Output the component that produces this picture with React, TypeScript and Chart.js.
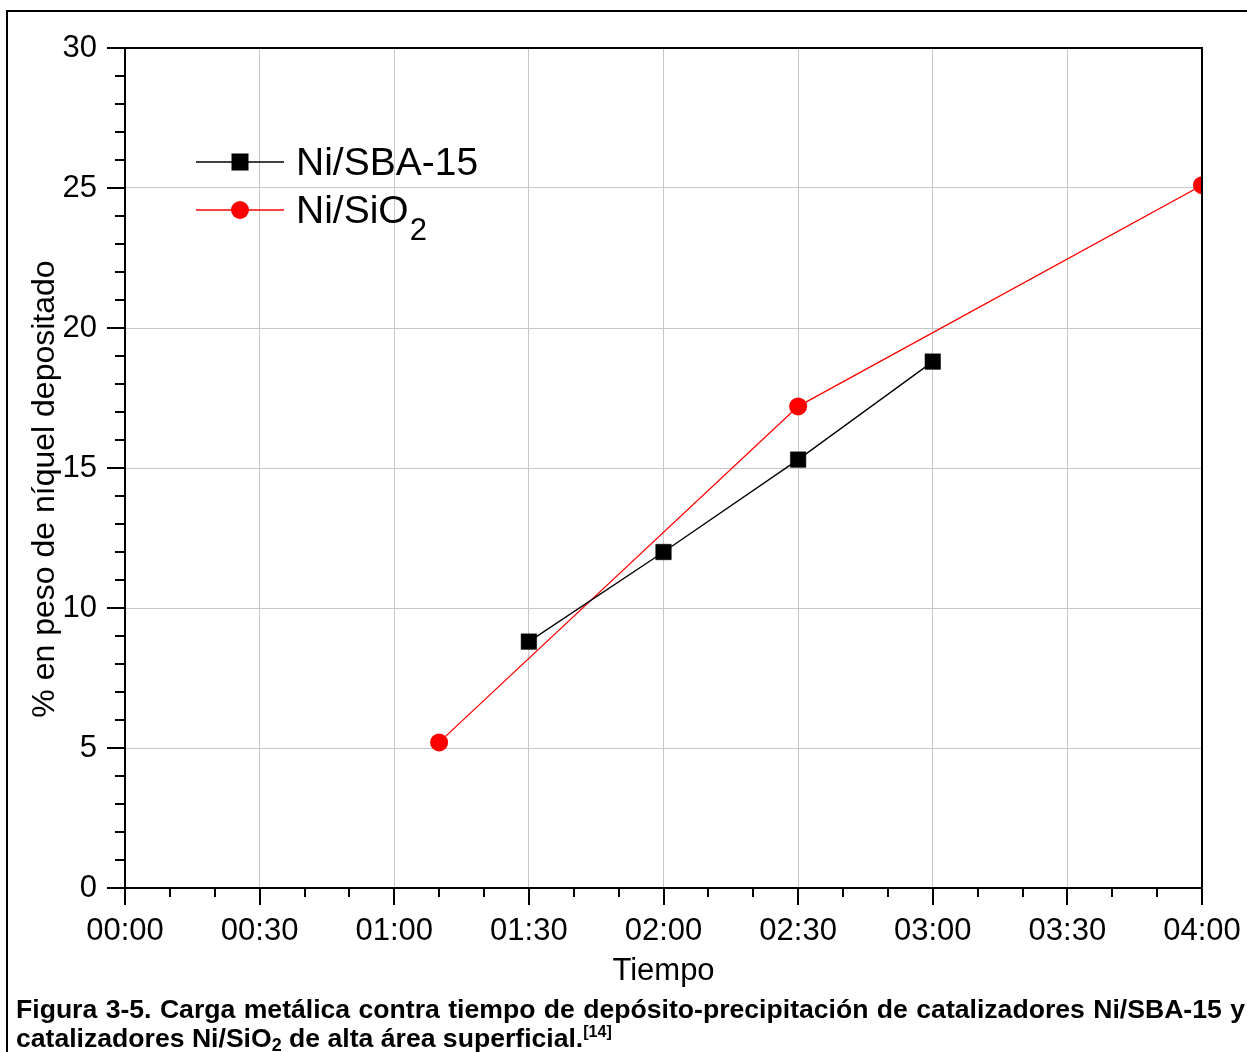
import React, { useEffect, useRef } from 'react';
import { Chart, registerables } from 'chart.js';

Chart.register(...registerables);

// Deposition time in minutes and nickel loading (wt %)
const sbaTimes = [90, 120, 150, 180];
const sbaLoading = [8.8, 12.0, 15.3, 18.8];
const sio2Times = [70, 150, 240];
const sio2Loading = [5.2, 17.2, 25.1];

const seriesNames = ['Ni/SBA-15', 'Ni/SiO'];
const seriesSubscripts = ['', '2'];
const timeTickLabels = ['00:00', '00:30', '01:00', '01:30', '02:00', '02:30', '03:00', '03:30', '04:00'];
const xTitle = 'Tiempo';
const yTitle = '% en peso de níquel depositado';

const FONT = "'Liberation Sans', Arial, Helvetica, sans-serif";
const GRID = '#c6c6c6';

const frameAndTicks = {
  id: 'frameAndTicks',
  afterDatasetsDraw(chart: any) {
    const { ctx, chartArea: a, scales } = chart;
    const x = scales.x;
    const y = scales.y;
    ctx.save();
    ctx.strokeStyle = '#000';
    ctx.lineWidth = 2;
    ctx.strokeRect(a.left, a.top, a.right - a.left, a.bottom - a.top);
    ctx.beginPath();
    for (let v = 0; v <= 240; v += 10) {
      const px = Math.round(x.getPixelForValue(v));
      const len = v % 30 === 0 ? 17 : 9;
      ctx.moveTo(px, a.bottom);
      ctx.lineTo(px, a.bottom + len);
    }
    for (let v = 0; v <= 30; v += 1) {
      const py = Math.round(y.getPixelForValue(v));
      const len = v % 5 === 0 ? 18 : 10;
      ctx.moveTo(a.left - len, py);
      ctx.lineTo(a.left, py);
    }
    ctx.stroke();
    ctx.restore();
  },
};

const legendAndTitle = {
  id: 'legendAndTitle',
  afterDraw(chart: any) {
    const { ctx, chartArea: a } = chart;
    ctx.save();
    // rotated y-axis title
    ctx.fillStyle = '#000';
    ctx.font = `32px ${FONT}`;
    ctx.textAlign = 'center';
    ctx.textBaseline = 'alphabetic';
    ctx.translate(54, a.top + (a.bottom - a.top) * 0.525);
    ctx.rotate(-Math.PI / 2);
    ctx.fillText(yTitle, 0, 0);
    ctx.restore();

    // legend
    ctx.save();
    const x0 = a.left + 71;
    const x1 = a.left + 159;
    chart.data.datasets.forEach((ds: any, i: number) => {
      const cy = a.top + 114 + i * 48;
      ctx.strokeStyle = ds.borderColor;
      ctx.lineWidth = 1.5;
      ctx.beginPath();
      ctx.moveTo(x0, cy);
      ctx.lineTo(x1, cy);
      ctx.stroke();
      ctx.fillStyle = ds.backgroundColor;
      const cx = (x0 + x1) / 2;
      if (ds.pointStyle === 'rect') {
        ctx.fillRect(cx - 8.5, cy - 8.5, 17, 17);
      } else {
        ctx.beginPath();
        ctx.arc(cx, cy, 9, 0, Math.PI * 2);
        ctx.fill();
      }
      ctx.fillStyle = '#000';
      ctx.textAlign = 'left';
      ctx.textBaseline = 'alphabetic';
      ctx.font = `39px ${FONT}`;
      const tx = a.left + 171;
      const base = cy + 13;
      ctx.fillText(seriesNames[i], tx, base);
      if (seriesSubscripts[i]) {
        const w = ctx.measureText(seriesNames[i]).width;
        ctx.font = `31px ${FONT}`;
        ctx.fillText(seriesSubscripts[i], tx + w + 1, base + 17);
      }
    });
    ctx.restore();
  },
};

function ChartCanvas() {
  const ref = useRef<HTMLCanvasElement | null>(null);
  useEffect(() => {
    if (!ref.current) return;
    const chart = new Chart(ref.current, {
      type: 'line',
      data: {
        datasets: [
          {
            label: seriesNames[0],
            data: sbaTimes.map((t, i) => ({ x: t, y: sbaLoading[i] })),
            borderColor: '#000000',
            backgroundColor: '#000000',
            borderWidth: 1.3,
            pointStyle: 'rect',
            pointRadius: 11,
            pointBorderWidth: 0.5,
            pointBorderColor: '#000000',
            pointBackgroundColor: '#000000',
          },
          {
            label: seriesNames[1] + seriesSubscripts[1],
            data: sio2Times.map((t, i) => ({ x: t, y: sio2Loading[i] })),
            borderColor: '#ff0000',
            backgroundColor: '#ff0000',
            borderWidth: 1.3,
            pointStyle: 'circle',
            pointRadius: 9,
            pointBorderWidth: 0,
            pointBackgroundColor: '#ff0000',
          },
        ],
      },
      options: {
        responsive: false,
        animation: false,
        devicePixelRatio: 1,
        layout: { padding: { left: 0, top: 48, right: 45, bottom: 0 } },
        plugins: {
          legend: { display: false },
          tooltip: { enabled: false },
        },
        scales: {
          x: {
            type: 'linear',
            min: 0,
            max: 240,
            afterFit: (s: any) => {
              s.height = 112;
              s.paddingLeft = 0;
              s.paddingRight = 0;
            },
            border: { display: false },
            grid: {
              drawTicks: false,
              lineWidth: 1,
              color: (c: any) => (c.tick && c.tick.value % 30 === 0 ? GRID : 'rgba(0,0,0,0)'),
            },
            ticks: {
              stepSize: 10,
              autoSkip: false,
              maxRotation: 0,
              padding: 25,
              color: '#000',
              font: { family: FONT, size: 31 },
              callback: (v: any) => (Number(v) % 30 === 0 ? timeTickLabels[Number(v) / 30] : ''),
            },
            title: {
              display: true,
              text: xTitle,
              color: '#000',
              font: { family: FONT, size: 31 },
              padding: { top: 0, bottom: 10 },
            },
          },
          y: {
            type: 'linear',
            min: 0,
            max: 30,
            afterFit: (s: any) => {
              s.width = 125;
              s.paddingTop = 0;
              s.paddingBottom = 0;
            },
            border: { display: false },
            grid: {
              drawTicks: false,
              lineWidth: 1,
              color: (c: any) => (c.tick && c.tick.value % 5 === 0 ? GRID : 'rgba(0,0,0,0)'),
            },
            ticks: {
              stepSize: 1,
              autoSkip: false,
              padding: 28,
              color: '#000',
              font: { family: FONT, size: 31 },
              callback: (v: any) => (Number(v) % 5 === 0 ? String(v) : ''),
            },
          },
        },
      },
      plugins: [frameAndTicks, legendAndTitle],
    } as any);
    return () => chart.destroy();
  }, []);
  return <canvas ref={ref} width={1247} height={1000} style={{ position: 'absolute', left: 0, top: 0 }} />;
}

export default function App() {
  const captionFont: React.CSSProperties = {
    fontFamily: FONT,
    fontWeight: 'bold',
    fontSize: 26.6,
    lineHeight: '29px',
    color: '#000',
    whiteSpace: 'nowrap',
  };
  return (
    <div style={{ position: 'fixed', left: 0, top: 0, width: 1247, height: 1052, overflow: 'hidden', background: '#fff' }}>
      <div style={{ position: 'absolute', left: 6, top: 10, width: 1300, height: 1100, borderLeft: '2px solid #000', borderTop: '2px solid #000' }} />
      <ChartCanvas />
      <div style={{ position: 'absolute', left: 16, top: 995, width: 1229 }}>
        <div style={{ ...captionFont, textAlign: 'justify', textAlignLast: 'justify' }}>
          Figura 3-5. Carga metálica contra tiempo de depósito-precipitación de catalizadores Ni/SBA-15 y
        </div>
        <div style={captionFont}>
          catalizadores Ni/SiO<sub style={{ fontSize: 18, verticalAlign: '-4px', lineHeight: 0 }}>2</sub> de alta área superficial.
          <sup style={{ fontSize: 16, verticalAlign: '10px', lineHeight: 0 }}>[14]</sup>
        </div>
      </div>
    </div>
  );
}
